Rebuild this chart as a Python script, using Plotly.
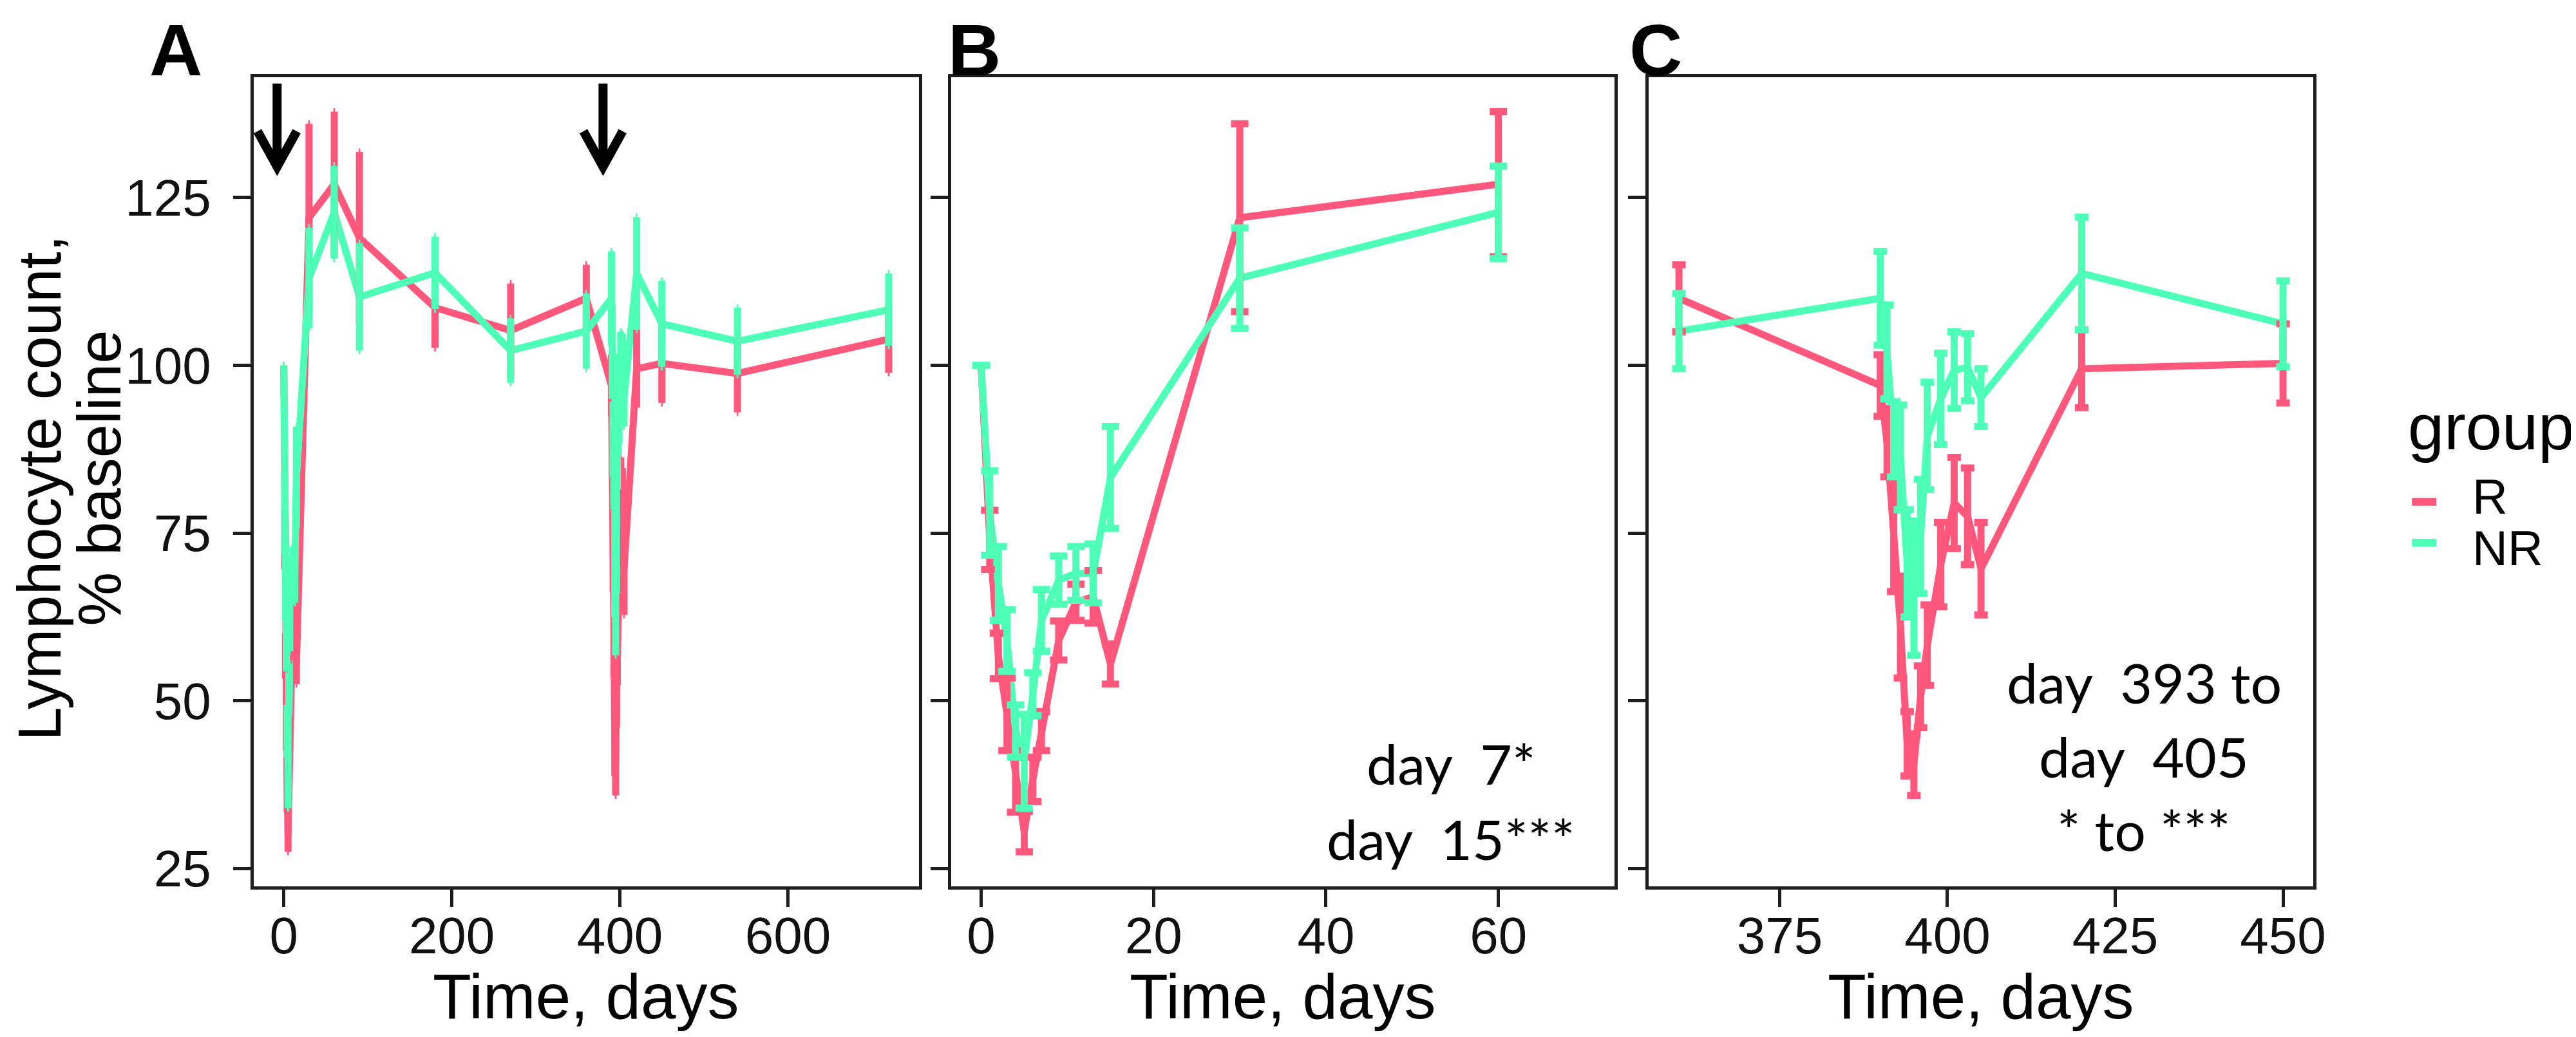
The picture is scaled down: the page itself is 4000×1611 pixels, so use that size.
import plotly.graph_objects as go

# ---------------- data ----------------
days = [0, 1, 2, 3, 4, 5, 6, 7, 9, 11, 13, 15, 30, 60, 90, 180, 270, 360,
        390, 391, 392, 393, 394, 395, 396, 397, 399, 401, 403, 405, 420, 450, 540, 720]

r_mean = [100, 74, 56.7, 48, 38, 30.5, 38.3, 45.5, 59, 64.7, 65.5, 55.5, 122, 127,
          119, 108.6, 105.2, 110,
          97, 88.5, 75, 61, 43.6, 40.5, 50.6, 58.3, 70.3, 79.5, 77.5, 69.7, 99.5, 100.3, 98.8, 103.9]
r_err = [0, 4.4, 3.4, 5.4, 4.6, 3.0, 3.3, 2.9, 2.9, 2.7, 3.9, 3.0, 14, 10.8,
         12.8, 6.0, 7.0, 5.0,
         4.6, 5.1, 8.7, 7.6, 4.8, 4.6, 4.6, 6.0, 6.3, 6.8, 7.2, 6.9, 5.8, 5.9, 5.8, 5.0]

nr_mean = [100, 78, 67.5, 59, 45.5, 41, 51, 62, 68, 69, 69, 83.3, 113, 122.8,
           110.2, 113.8, 102.2, 105.1,
           110, 102, 89, 86.3, 70.5, 66.8, 74.5, 89.5, 95, 99.3, 99.7, 95.2, 113.7, 106.2, 103.6, 108.3]
nr_err = [0, 6.3, 5.5, 4.6, 3.9, 7.0, 3.2, 4.6, 3.6, 4.0, 4.4, 7.6, 7.5, 6.9,
          8.0, 5.4, 4.8, 5.6,
          7.0, 7.0, 5.6, 7.8, 8.0, 10.0, 8.5, 8.0, 6.8, 5.7, 5.0, 4.3, 8.4, 6.4, 5.0, 5.4]

groups = ["R", "NR"]
colors = {"R": "#FF587C", "NR": "#4EFFB8"}
series = {"R": (r_mean, r_err), "NR": (nr_mean, nr_err)}

panel_letters = ["A", "B", "C"]
panel_limits = [(0, 720), (0, 70), (360, 450)]
panel_ticks = [[0, 200, 400, 600], [0, 20, 40, 60], [375, 400, 425, 450]]
y_ticks = [25, 50, 75, 100, 125]
y_limits = (27.8, 137.5)

arrow_days = [-8, 380]
arrow_top, arrow_tip = 142.0, 129.6

y_title_lines = ["Lymphocyte count,", "% baseline"]
note_B = ["day\u00a0\u00a07*", "day\u00a0\u00a015***"]
note_C = ["day\u00a0\u00a0393 to", "day\u00a0\u00a0405", "* to ***"]

# ---------------- layout helpers ----------------
W, H = 4000, 1611
def px(x):
    return x / W
def py(y):
    return 1 - y / H

panel_px = [(387.7, 1426), (1476, 2512), (2565, 3602)]
y_dom = [py(1384), py(112.7)]
cap_half = [1.3, 13.5, 10.5]

def expand(lo, hi, f=0.05):
    d = (hi - lo) * f
    return [lo - d, hi + d]

yr = expand(*y_limits)

AX_COL = "#1e1e1e"
SANS = "Liberation Sans, Arial, sans-serif"
TICK_FONT = dict(family=SANS, size=80, color="#111111")

fig = go.Figure()

for i, (lo, hi) in enumerate(panel_limits):
    xa = "x" if i == 0 else f"x{i+1}"
    ya = "y" if i == 0 else f"y{i+1}"
    idx = [k for k, d in enumerate(days) if lo <= d <= hi]
    xs = [days[k] for k in idx]
    for g in groups:
        m, e = series[g]
        fig.add_trace(go.Scatter(
            x=xs, y=[m[k] for k in idx], mode="lines", name=g,
            line=dict(color=colors[g], width=11), xaxis=xa, yaxis=ya,
            showlegend=False, hoverinfo="skip"))
    for g in groups:
        m, e = series[g]
        fig.add_trace(go.Scatter(
            x=xs, y=[m[k] for k in idx], mode="markers", name=g,
            marker=dict(color=colors[g], size=1, opacity=0),
            error_y=dict(type="data", array=[e[k] for k in idx], visible=True,
                         color=colors[g], thickness=11, width=cap_half[i]),
            xaxis=xa, yaxis=ya, showlegend=False, hoverinfo="skip"))

axis_common = dict(showline=True, mirror=True, linecolor=AX_COL, linewidth=5,
                   ticks="outside", ticklen=27, tickwidth=5, tickcolor=AX_COL,
                   showgrid=False, zeroline=False, tickfont=TICK_FONT)

for i, (lo, hi) in enumerate(panel_limits):
    xkey = "xaxis" if i == 0 else f"xaxis{i+1}"
    ykey = "yaxis" if i == 0 else f"yaxis{i+1}"
    ya = "y" if i == 0 else f"y{i+1}"
    xa = "x" if i == 0 else f"x{i+1}"
    fig.update_layout({
        xkey: dict(axis_common, domain=[px(panel_px[i][0]), px(panel_px[i][1])],
                   range=expand(lo, hi), tickvals=panel_ticks[i], anchor=ya,
                   ticklabelstandoff=-24),
        ykey: dict(axis_common, domain=y_dom, range=yr, tickvals=y_ticks, anchor=xa,
                   showticklabels=(i == 0), ticklabelstandoff=18),
    })

annotations = []
for i in range(3):
    cx = (panel_px[i][0] + panel_px[i][1]) / 2
    annotations.append(dict(text="Time, days", x=px(cx), y=py(1556), xref="paper", yref="paper",
                            xanchor="center", yanchor="middle", showarrow=False,
                            font=dict(family=SANS, size=98, color="#000")))
# y title (two rotated lines)
for t, cxp, cyp in zip(y_title_lines, [53, 147], [758, 742]):
    annotations.append(dict(text=t, x=px(cxp), y=py(cyp),
                            xref="paper", yref="paper", xanchor="center", yanchor="middle",
                            textangle=-90, showarrow=False,
                            font=dict(family=SANS, size=94, color="#000")))
letter_x = [223, 1469, 2533]
for L, lx in zip(panel_letters, letter_x):
    annotations.append(dict(text=f"<b>{L}</b>", x=px(lx), y=py(70), xref="paper", yref="paper",
                            xanchor="left", yanchor="middle", showarrow=False,
                            font=dict(family=SANS, size=114, color="#000")))
NOTE_FONT = dict(family="Lato, sans-serif", size=86, color="#000")
for k, t in enumerate(note_B):
    annotations.append(dict(text=t, x=54.5, y=40.7 - 11.2 * k, xref="x2", yref="y2",
                            xanchor="center", yanchor="middle", showarrow=False, font=NOTE_FONT))
for k, t in enumerate(note_C):
    annotations.append(dict(text=t, x=429.3, y=52.8 - 11.0 * k, xref="x3", yref="y3",
                            xanchor="center", yanchor="middle", showarrow=False, font=NOTE_FONT))

annotations.append(dict(text="group", x=px(3748), y=py(662), xref="paper", yref="paper",
                        xanchor="left", yanchor="middle", showarrow=False,
                        font=dict(family=SANS, size=101, color="#000")))
shapes = []
leg_rows = [780, 844]
leg_text_rows = [772, 853]
for g, ry, ty in zip(groups, leg_rows, leg_text_rows):
    shapes.append(dict(type="line", xref="paper", yref="paper", x0=px(3756), x1=px(3794),
                       y0=py(ry), y1=py(ry), line=dict(color=colors[g], width=12)))
    annotations.append(dict(text=g, x=px(3848), y=py(ty), xref="paper", yref="paper",
                            xanchor="left", yanchor="middle", showarrow=False,
                            font=dict(family=SANS, size=76, color="#000")))

for d in arrow_days:
    shapes.append(dict(type="line", xref="x", yref="y", x0=d, x1=d, y0=arrow_top, y1=arrow_tip + 0.6,
                       line=dict(color="#000", width=14)))
    shapes.append(dict(type="path", xref="x", yref="y",
                       path=f"M {d-23.3},{arrow_tip+5.3} L {d},{arrow_tip} L {d+23.3},{arrow_tip+5.3}",
                       line=dict(color="#000", width=14)))

fig.update_layout(width=W, height=H, margin=dict(l=0, r=0, t=0, b=0),
                  paper_bgcolor="white", plot_bgcolor="white",
                  annotations=annotations, shapes=shapes, showlegend=False)

fig.write_html("out.html")
